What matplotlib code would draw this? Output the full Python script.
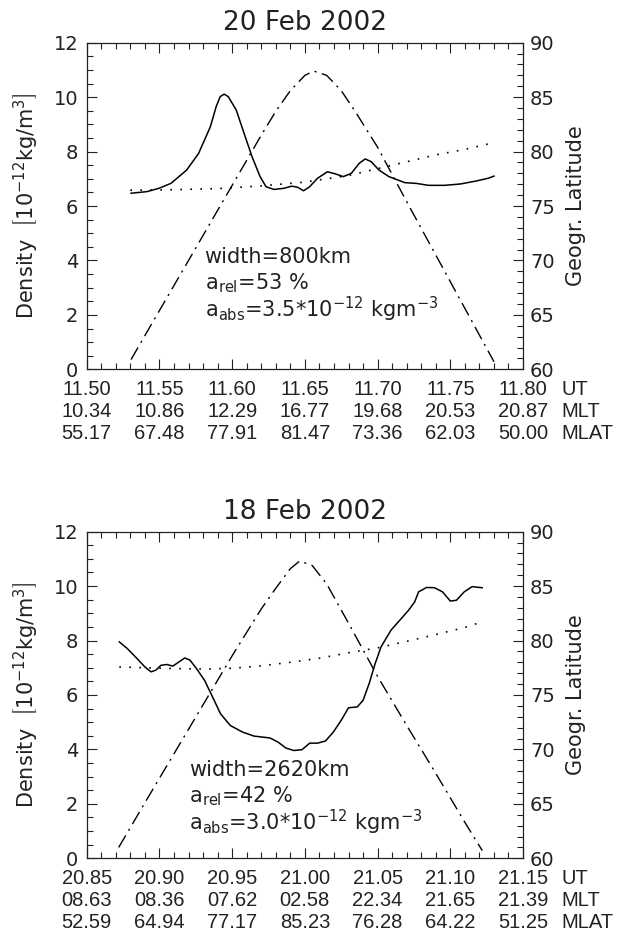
import matplotlib
matplotlib.use('Agg')
import matplotlib.pyplot as plt
from matplotlib.ticker import MultipleLocator

plt.rcParams['font.family'] = ['DejaVu Sans']
plt.rcParams['mathtext.default'] = 'regular'

# ---- 20 Feb 2002 ----
ut_ticks_a = [11.50, 11.55, 11.60, 11.65, 11.70, 11.75, 11.80]
mlt_a = ['10.34', '10.86', '12.29', '16.77', '19.68', '20.53', '20.87']
mlat_a = ['55.17', '67.48', '77.91', '81.47', '73.36', '62.03', '50.00']

dens_ut_a = [11.5305, 11.5415, 11.5496, 11.5578, 11.5687, 11.5769, 11.585, 11.589,
             11.5918, 11.5945, 11.5973, 11.6028, 11.6082, 11.6137, 11.6192, 11.6233,
             11.6287, 11.6355, 11.641, 11.645, 11.6491, 11.6533, 11.6587, 11.6655,
             11.671, 11.6764, 11.6819, 11.6874, 11.6915, 11.6956, 11.701, 11.7078,
             11.7187, 11.7269, 11.735, 11.746, 11.7569, 11.7678, 11.776, 11.78]
dens_a = [6.47, 6.53, 6.65, 6.83, 7.32, 7.93, 8.91, 9.65,
          10.02, 10.11, 10.02, 9.53, 8.67, 7.81, 7.08, 6.71,
          6.61, 6.65, 6.73, 6.69, 6.56, 6.71, 7.02, 7.26,
          7.18, 7.08, 7.20, 7.57, 7.73, 7.63, 7.32, 7.08,
          6.86, 6.83, 6.76, 6.76, 6.81, 6.92, 7.02, 7.10]

bg_ut_a = [11.53, 11.56, 11.59, 11.62, 11.65, 11.68, 11.71, 11.74, 11.76, 11.78]
bg_a = [6.58, 6.60, 6.64, 6.74, 6.88, 7.12, 7.50, 7.88, 8.08, 8.33]

lat_ut_a = [11.5305, 11.54, 11.56, 11.58, 11.60, 11.62, 11.63, 11.64, 11.65, 11.656,
            11.665, 11.675, 11.685, 11.70, 11.72, 11.74, 11.76, 11.78]
lat_a = [60.9, 63.1, 67.7, 72.3, 76.9, 81.5, 83.7, 85.6, 87.0, 87.4,
         87.0, 85.6, 83.6, 80.4, 75.4, 70.5, 65.6, 60.7]

notes_a = ['width=800km', 'a$_{rel}$=53 %', 'a$_{abs}$=3.5*10$^{-12}$ kgm$^{-3}$']

# ---- 18 Feb 2002 ----
ut_ticks_b = [20.85, 20.90, 20.95, 21.00, 21.05, 21.10, 21.15]
mlt_b = ['08.63', '08.36', '07.62', '02.58', '22.34', '21.65', '21.39']
mlat_b = ['52.59', '64.94', '77.17', '85.23', '76.28', '64.22', '51.25']

dens_ut_b = [20.8724, 20.8778, 20.8846, 20.89, 20.8942, 20.8975, 20.901, 20.9051,
             20.9092, 20.9133, 20.9174, 20.921, 20.9255, 20.931, 20.9365, 20.942,
             20.9487, 20.957, 20.965, 20.976, 20.9815, 20.987, 20.9924, 20.998,
             21.0033, 21.0087, 21.0142, 21.0196, 21.025, 21.03, 21.036, 21.04,
             21.0442, 21.0483, 21.0524, 21.0592, 21.0673, 21.0714, 21.0755, 21.0782,
             21.0837, 21.0891, 21.0946, 21.1, 21.1042, 21.1096, 21.115, 21.1219]
dens_b = [7.95, 7.71, 7.34, 7.03, 6.85, 6.91, 7.09, 7.12,
          7.06, 7.21, 7.36, 7.28, 6.97, 6.54, 5.93, 5.31,
          4.88, 4.64, 4.49, 4.42, 4.27, 4.05, 3.96, 3.99,
          4.23, 4.23, 4.31, 4.64, 5.07, 5.53, 5.56, 5.80,
          6.42, 7.15, 7.77, 8.38, 8.87, 9.12, 9.42, 9.79,
          9.95, 9.94, 9.79, 9.45, 9.48, 9.79, 9.98, 9.94]

bg_ut_b = [20.8724, 20.89, 20.91, 20.93, 20.95, 20.97, 20.99, 21.01, 21.03, 21.05,
           21.07, 21.09, 21.11, 21.122]
bg_b = [7.03, 7.00, 6.97, 6.95, 6.98, 7.07, 7.20, 7.35, 7.55, 7.73,
        7.97, 8.22, 8.48, 8.69]

lat_ut_b = [20.872, 20.89, 20.91, 20.93, 20.95, 20.97, 20.98, 20.99, 20.9964,
            21.005, 21.015, 21.03, 21.05, 21.07, 21.09, 21.11, 21.122]
lat_b = [61.0, 65.1, 69.6, 74.1, 78.6, 82.9, 84.8, 86.6, 87.3,
         86.9, 85.2, 81.6, 76.7, 72.2, 67.8, 63.3, 60.7]

notes_b = ['width=2620km', 'a$_{rel}$=42 %', 'a$_{abs}$=3.0*10$^{-12}$ kgm$^{-3}$']

ink = '#222222'
rowfont = 'Liberation Sans'


def draw_panel(ax, title, ut_ticks, mlt, mlat, d_ut, d, b_ut, b, l_ut, l, notes, nx, ny):
    ax.plot(d_ut, d, color='black', lw=1.1)
    ax.plot(b_ut, b, color='black', lw=1.2, linestyle=(0, (1, 5)))
    ax.set_xlim(ut_ticks[0], ut_ticks[-1])
    ax.set_ylim(0, 12)
    ax.xaxis.set_major_locator(MultipleLocator(0.05))
    ax.xaxis.set_minor_locator(MultipleLocator(0.01))
    ax.yaxis.set_major_locator(MultipleLocator(2))
    ax.yaxis.set_minor_locator(MultipleLocator(0.5))
    ax.tick_params(which='both', direction='in', top=True, bottom=True,
                   left=True, right=False, labelbottom=False, color=ink)
    ax.tick_params(which='major', length=7, width=0.8)
    ax.tick_params(which='minor', length=4, width=0.8)
    ax.tick_params(axis='y', labelsize=14, pad=6, labelcolor=ink)
    ax.set_ylabel('Density  $\\left[10^{-12}kg/m^{3}\\right]$', fontsize=15,
                  color=ink, labelpad=10)
    ax.set_title(title, fontsize=19, color=ink, pad=9)
    for s in ax.spines.values():
        s.set_linewidth(0.9)
        s.set_color(ink)

    rows = [['%.2f' % u for u in ut_ticks], mlt, mlat]
    offs = [-0.063, -0.130, -0.197]
    tr = ax.get_xaxis_transform()
    for labels, yo in zip(rows, offs):
        for u, lab in zip(ut_ticks, labels):
            ax.text(u, yo, lab, transform=tr, ha='center', va='center',
                    fontsize=14.5, family=rowfont, color=ink)
    for name, yo in zip(['UT', 'MLT', 'MLAT'], offs):
        ax.text(1.088, yo, name, transform=ax.transAxes, ha='left', va='center',
                fontsize=14.5, family=rowfont, color=ink)

    for i, t in enumerate(notes):
        ax.text(nx, ny - i * 0.08, t, transform=ax.transAxes, ha='left',
                va='center', fontsize=15, color=ink)

    axr = ax.twinx()
    axr.plot(l_ut, l, color='black', lw=1.0, linestyle=(0, (10, 4, 1.5, 4)))
    axr.set_ylim(60, 90)
    axr.yaxis.set_major_locator(MultipleLocator(5))
    axr.yaxis.set_minor_locator(MultipleLocator(1))
    axr.tick_params(which='both', direction='in', right=True, left=False, color=ink)
    axr.tick_params(which='major', length=7, width=0.8)
    axr.tick_params(which='minor', length=4, width=0.8)
    axr.tick_params(axis='y', labelsize=14, pad=5, labelcolor=ink)
    axr.set_ylabel('Geogr. Latitude', fontsize=15, color=ink, labelpad=8)
    for s in axr.spines.values():
        s.set_visible(False)


fig = plt.figure(figsize=(6.22, 9.41), dpi=100)
ax1 = fig.add_axes([0.1394, 0.6075, 0.7015, 0.3471])
ax2 = fig.add_axes([0.1394, 0.0879, 0.7015, 0.3471])

draw_panel(ax1, '20 Feb 2002', ut_ticks_a, mlt_a, mlat_a, dens_ut_a, dens_a,
           bg_ut_a, bg_a, lat_ut_a, lat_a, notes_a, 0.27, 0.345)
draw_panel(ax2, '18 Feb 2002', ut_ticks_b, mlt_b, mlat_b, dens_ut_b, dens_b,
           bg_ut_b, bg_b, lat_ut_b, lat_b, notes_b, 0.234, 0.269)

fig.savefig('out.png', dpi=100)
